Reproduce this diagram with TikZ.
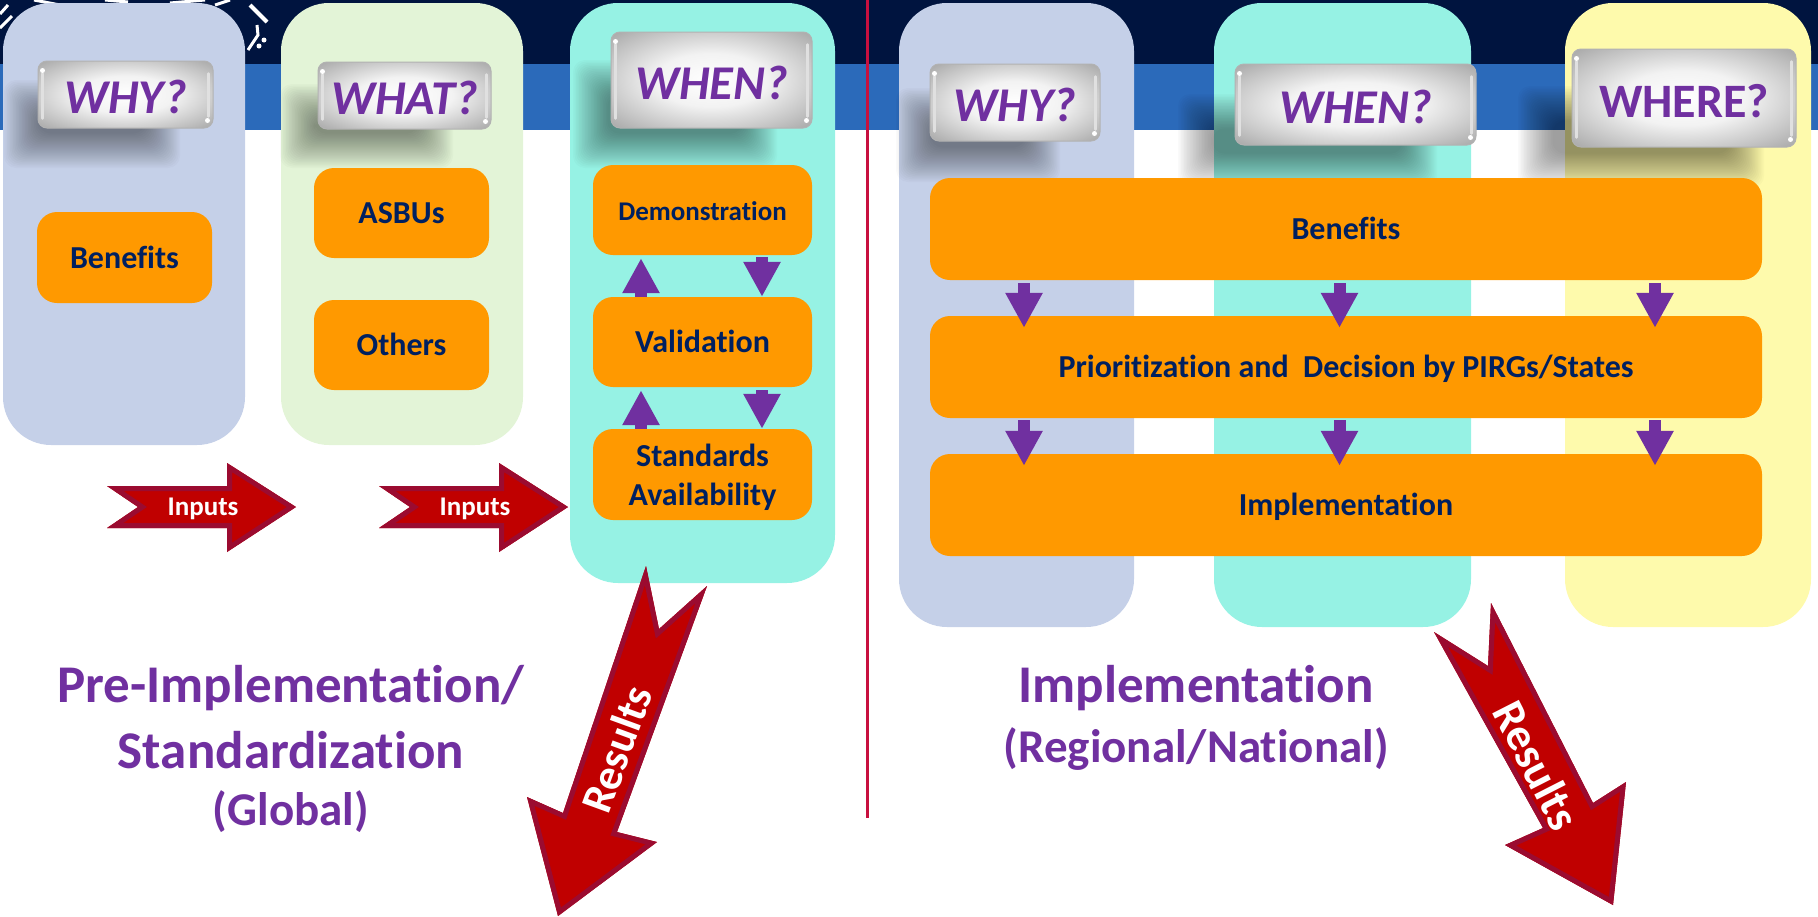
\documentclass[tikz,border=0pt]{standalone}
\usepackage{fontspec}
\setmainfont[Ligatures={NoCommon,NoContextual}]{Carlito}
\usepackage{xcolor}
\usetikzlibrary{positioning}
\usetikzlibrary{shapes,arrows.meta,calc}

\definecolor{bandnavy}{HTML}{00143F}
\definecolor{bandblue}{HTML}{2B6ABA}
\definecolor{colblue}{HTML}{C5D0E8}
\definecolor{colgreen}{HTML}{E3F4D7}
\definecolor{colteal}{HTML}{96F2E4}
\definecolor{colyellow}{HTML}{FEFAAC}
\definecolor{boxorange}{HTML}{FF9900}
\definecolor{boxtext}{HTML}{002060}
\definecolor{titlepurple}{HTML}{7030A0}
\definecolor{arrowred}{HTML}{C00000}
\definecolor{arrowedge}{HTML}{9B0B30}
\definecolor{splitred}{HTML}{C8103F}

\pgfdeclareradialshading{plateshade}{\pgfpoint{0bp}{0bp}}{%
  color(0bp)=(white); color(14bp)=(white!95!black); color(28bp)=(black!24);
  color(38bp)=(black!38); color(50bp)=(black!40)}

\tikzset{
  colbox/.style={minimum height=442, rounded corners=48pt, inner sep=0pt},
  orangebox/.style={fill=boxorange, rounded corners=20pt, text=boxtext,
    inner sep=0pt, align=center, text height=26pt, text depth=5pt,
    font=\bfseries\fontsize{32}{39}\selectfont},
  platebox/.style={shading=plateshade, rounded corners=9pt, draw=black!30,
    line width=1pt, inner sep=0pt, text=titlepurple, text height=38pt, text depth=0pt,
    font=\bfseries\itshape\fontsize{48.5}{52}\selectfont},
  grip/.style={black!12, line width=2.5pt, line cap=round},
  vertarrow/.style={titlepurple, line width=12pt,
    -{Triangle[length=35pt,width=35pt]}},
  arrowtext/.style={text=white, inner sep=0pt, font=\bfseries},
  titletext/.style={text=titlepurple, inner sep=0pt, font=\bfseries},
  logostroke/.style={white, line width=3pt}
}

\newcommand{\redshape}[1]{
  \fill[arrowred] #1 -- cycle;
  \begin{scope}
    \clip #1 -- cycle;
    \draw[arrowedge, line width=10pt, line join=miter] #1 -- cycle;
  \end{scope}
}
\newcommand{\softshadow}[4]{
  \foreach \i in {0,...,23}
    \fill[black, opacity=.018, rounded corners=12pt]
      ({#1+1.5*\i},{#2+1.5*\i}) rectangle ({#3-1.5*\i},{#4-1.5*\i});
}

\begin{document}
\begin{tikzpicture}[x=1pt, y=-1pt]
  \useasboundingbox (0,0) rectangle (1818,916);

  % header bands
  \fill[bandnavy] (0,0) rectangle (1818,64);
  \fill[bandblue] (0,64) rectangle (1818,130);

  % bits of the emblem
  \draw[logostroke, line width=4pt] (250,5) -- (267,22);
  \draw[logostroke] (257,25) -- (258,35) -- (248,50);
  \fill[white] (264,40) circle (2.5) (259,46) circle (2.5);
  \draw[logostroke] (0,14) -- (8,5) (0,28) -- (12,16);
  \draw[logostroke] (34,0) -- (60,5) (105,0) -- (128,2) (170,3) -- (205,0) (215,5) -- (230,0);

  % columns
  \node(colwhyA) [colbox, fill=colblue, minimum width=242] at (124,224) {};
  \node(colwhat) [colbox, fill=colgreen, minimum width=242] at (402,224) {};
  \node(colwhenA) [colbox, fill=colteal, minimum width=265, minimum height=580] at (702.5,293) {};
  \node(colwhyB) [colbox, fill=colblue, minimum width=235, minimum height=624] at (1016.5,315) {};
  \node(colwhenB) [colbox, fill=colteal, minimum width=257, minimum height=624] at (1342.5,315) {};
  \node(colwhere) [colbox, fill=colyellow, minimum width=246, minimum height=624] at (1688,315) {};

  % shadows under the plates
  \softshadow{4}{80}{180}{168}
  \softshadow{280}{84}{453}{168}
  \softshadow{573}{60}{777}{168}
  \softshadow{896}{88}{1060}{182}
  \softshadow{1178}{94}{1437}{188}
  \softshadow{1518}{86}{1764}{188}

  % plates
  \node(platewhyA) [platebox, minimum width=175, minimum height=67] at (125.5,94.5) {WHY?};
  \node(platewhat) [platebox, minimum width=173, minimum height=67] at (404.5,95.5) {WHAT?};
  \node(platewhenA) [platebox, minimum width=201, minimum height=96] at (711.5,80) {WHEN?};
  \node(platewhyB) [platebox, minimum width=170, minimum height=77] at (1015,102.5) {WHY?};
  \node(platewhenB) [platebox, minimum width=241, minimum height=81] at (1355.5,104.5) {WHEN?};
  \node(platewhere) [platebox, minimum width=224, minimum height=98,
    font=\bfseries\fontsize{48}{52}\selectfont] at (1684,98) {WHERE?};
  \foreach \p in {platewhyA,platewhat,platewhenA,platewhyB,platewhenB,platewhere} {
    \draw[grip] ($(\p.north west)+(5,13)$) -- ($(\p.south west)+(5,-10)$);
    \draw[grip] ($(\p.north east)+(-5,13)$) -- ($(\p.south east)+(-5,-12)$);
    \fill[white] ($(\p.north west)+(5,10)$) circle (2.5);
    \fill[white] ($(\p.south east)+(-6,-8)$) circle (2.5);
  }

  % orange boxes
  \node(benA) [orangebox, minimum width=175, minimum height=91] at (124.5,257.5) {Benefits};
  \node(asbus) [orangebox, minimum width=175, minimum height=90] at (401.5,213) {ASBUs};
  \node(others) [orangebox, minimum width=175, minimum height=90, below of=asbus, node distance=132pt] {Others};
  \node(demo) [orangebox, minimum width=219, minimum height=90,
    font=\bfseries\fontsize{27}{39}\selectfont] at (702.5,210) {Demonstration};
  \node(valid) [orangebox, minimum width=219, minimum height=90, below of=demo, node distance=132pt] {Validation};
  \node(stand) [orangebox, minimum width=219, minimum height=91, below of=valid, node distance=132.5pt,
    text height=, text depth=] {\rule{0pt}{29pt}Standards\\Availability};
  \node(benB) [orangebox, minimum width=832, minimum height=102] at (1346,229) {Benefits};
  \node(prior) [orangebox, minimum width=832, minimum height=102, below of=benB, node distance=138pt] {Prioritization and\ \ Decision by PIRGs/States};
  \node(impl) [orangebox, minimum width=832, minimum height=102, below of=prior, node distance=138pt] {Implementation};

  % purple arrows
  \foreach \xpos in {1024,1339.5,1655} {
    \draw[vertarrow, shorten <=3pt, shorten >=-12pt] (\xpos,0 |- benB.south) -- (\xpos,0 |- prior.north);
    \draw[vertarrow, shorten <=2pt, shorten >=-12pt] (\xpos,0 |- prior.south) -- (\xpos,0 |- impl.north);
  }
  \draw[vertarrow, shorten >=3pt] (641,0 |- valid.north) -- (641,0 |- demo.south);
  \draw[vertarrow, shorten <=2pt] (762,0 |- demo.south) -- (762,0 |- valid.north);
  \draw[vertarrow, shorten >=3pt] (641,0 |- stand.north) -- (641,0 |- valid.south);
  \draw[vertarrow, shorten <=3pt] (762,0 |- valid.south) -- (762,0 |- stand.north);

  % red arrows
  \redshape{(107,486) -- (227,486) -- (227,463) -- (296,507) -- (227,552) -- (227,528) -- (107,528) -- (138,507)}
  \redshape{(379,486) -- (499,486) -- (499,463) -- (568,507) -- (499,552) -- (499,528) -- (379,528) -- (410,507)}
  \redshape{(646,566) -- (659,629) -- (707,586) -- (617,832) -- (657,842) -- (558,916) -- (527,797) -- (563,813)}
  \redshape{(1491,603) -- (1593,803) -- (1626,782) -- (1613,905) -- (1505,845) -- (1543,828) -- (1434,632) -- (1488,666)}
  \node(inA) [arrowtext, font=\bfseries\fontsize{27}{30}\selectfont] at (203,509) {Inputs};
  \node(inB) [arrowtext, font=\bfseries\fontsize{27}{30}\selectfont] at (475,509) {Inputs};
  \node(resA) [arrowtext, rotate=70, font=\bfseries\fontsize{44}{48}\selectfont] at (617,749) {Results};
  \node(resB) [arrowtext, rotate=-63, font=\bfseries\fontsize{46}{50}\selectfont] at (1537,765) {Results};

  % dividing line
  \coordinate (splittop) at (867,0);
  \coordinate (splitend) at (867,818);
  \draw[splitred, line width=3pt] (splittop) -- (splitend);

  % titles
  \node(preA) [titletext, font=\bfseries\fontsize{53}{56}\selectfont] at (291,688) {Pre-Implementation/};
  \node(preB) [titletext, below of=preA, node distance=62pt, font=\bfseries\fontsize{53}{56}\selectfont] {Standardization};
  \node(preC) [titletext, font=\bfseries\fontsize{47}{50}\selectfont] at (291,812) {(Global)};
  \node(implA) [titletext, font=\bfseries\fontsize{53}{56}\selectfont] at (1196,688) {Implementation};
  \node(implB) [titletext, font=\bfseries\fontsize{47}{50}\selectfont] at (1196,749) {(Regional/National)};
\end{tikzpicture}
\end{document}
